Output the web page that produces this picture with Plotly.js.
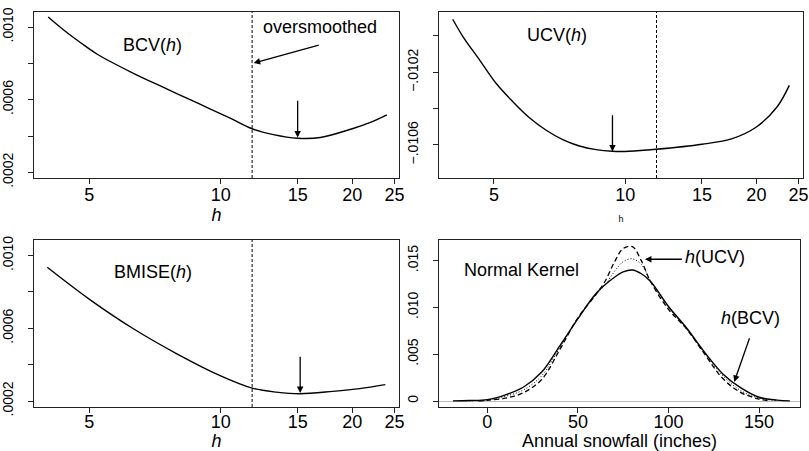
<!DOCTYPE html>
<html>
<head>
<meta charset="utf-8">
<script src="https://cdn.plot.ly/plotly-3.0.1.min.js"></script>
<style>html,body{margin:0;padding:0;background:#fff;}#chart{width:809px;height:451px;}</style>
</head>
<body>
<div id="chart"></div>
<script>
// ---- data ----
var hOversmoothed = 11.8;

var hBCV = [4.03, 4.38, 4.79, 5.22, 6.23, 7.42, 8.84, 10.54, 11.8, 13.2, 15.0, 16.9, 20.0, 22.0, 24.0];
var bcvValues = [0.001055, 0.000982, 0.000912, 0.000850, 0.000752, 0.000666, 0.000582, 0.000497, 0.000440, 0.000408, 0.000388, 0.000392, 0.000440, 0.000475, 0.000517];
var hBCVmin = 15.0;

var hUCV = [4.02, 4.25, 4.64, 5.06, 5.53, 6.03, 6.59, 7.19, 7.85, 8.57, 9.35, 10.21, 11.77, 15.0, 17.6, 20.0, 22.3, 23.8];
var ucvValues = [-0.009908, -0.010006, -0.010134, -0.010262, -0.010363, -0.010450, -0.010519, -0.010571, -0.010606, -0.010626, -0.010635, -0.010635, -0.010624, -0.010596, -0.010565, -0.010501, -0.010391, -0.010272];
var hUCVmin = 9.35;

var hBMISE = [4.01, 5.0, 6.30, 7.92, 9.94, 11.8, 13.4, 15.2, 18.05, 20.8, 23.8];
var bmiseValues = [0.000936, 0.000761, 0.000599, 0.000461, 0.000341, 0.000271, 0.000249, 0.000240, 0.000253, 0.000268, 0.000290];
var hBMISEmin = 15.2;

var snowX_BCV = [-19, -10, 0, 10, 20, 30, 40, 50, 60, 70, 75, 80, 85, 90, 100, 110, 120, 130, 140, 150, 160, 167];
var densBCV   = [0.00002, 0.00006, 0.00015, 0.00066, 0.0015, 0.0031, 0.0059, 0.0088, 0.0115, 0.0132, 0.0138, 0.0140, 0.0136, 0.0128, 0.0101, 0.0078, 0.0052, 0.0029, 0.0014, 0.0004, 0.0001, 0.00002];

var snowX_mid = [-12, 0, 10, 20, 30, 40, 50, 60, 65, 70, 75, 80, 85, 90, 100, 110, 120, 130, 140, 150, 160];
var densMid   = [0.00002, 0.0001, 0.0005, 0.0012, 0.0027, 0.0057, 0.0088, 0.0114, 0.0124, 0.0138, 0.0149, 0.0152, 0.0146, 0.0129, 0.0100, 0.0077, 0.0051, 0.0027, 0.0011, 0.0003, 0.00005];

var snowX_UCV = [-5, 0, 10, 20, 30, 40, 50, 60, 65, 70, 75, 80, 85, 90, 100, 110, 120, 130, 140, 150, 155];
var densUCV   = [0.00002, 0.00008, 0.0003, 0.0009, 0.0023, 0.0055, 0.0089, 0.0114, 0.0128, 0.0148, 0.0163, 0.0165, 0.0150, 0.0128, 0.0098, 0.0077, 0.0050, 0.0024, 0.0009, 0.0002, 0.00005];

var p1Ticks = [0.0002, 0.0004, 0.0006, 0.0008, 0.0010];
var p1Labels = ['.0002', '', '.0006', '', '.0010'];
var p2Ticks = [-0.0106, -0.0104, -0.0102, -0.0100];
var p2Labels = ['\u2212.0106', '', '\u2212.0102', ''];
var p4Ticks = [0, 0.005, 0.010, 0.015];
var p4Labels = ['0', '.005', '.010', '.015'];
var hTicks = [5, 10, 15, 20, 25];
var snowTicks = [0, 50, 100, 150];

// ---- layout helpers ----
var FONT = 'Liberation Sans, Arial, Helvetica, sans-serif';
var W = 809, H = 451;
function xd(a, b) { return [a / W, b / W]; }
function yd(t, b) { return [1 - b / H, 1 - t / H]; }
var L = Math.log10;

var r1y = [0.000169, 0.0010826];
var r2y = [-0.010782, -0.009868];
var r3y = [0.000167, 0.001086];
var r4y = [-0.00064, 0.01721];
var hRange = [0.5728, 1.408];

function xax(domain, anchor, extra) {
  var o = {
    domain: domain, anchor: anchor,
    showline: true, mirror: true, linecolor: '#222', linewidth: 1,
    ticks: 'outside', ticklen: 5, tickcolor: '#222', tickwidth: 1,
    showgrid: false, zeroline: false,
    tickfont: {family: FONT, size: 18, color: '#000'},
    ticklabelstandoff: -5
  };
  for (var k in extra) o[k] = extra[k];
  return o;
}
function yax(domain, anchor, extra) {
  var o = {
    domain: domain, anchor: anchor,
    showline: true, mirror: true, linecolor: '#222', linewidth: 1,
    ticks: 'outside', ticklen: 5, tickcolor: '#222', tickwidth: 1,
    showgrid: false, zeroline: false, tickangle: -90,
    tickfont: {family: FONT, size: 14, color: '#000'},
    ticklabelstandoff: 9
  };
  for (var k in extra) o[k] = extra[k];
  return o;
}

var lineSolid = {color: '#000', width: 1.4, shape: 'spline', smoothing: 1};
var vDash = {color: '#000', width: 1, dash: '3px,2px'};

var traces = [
  {x: hBCV, y: bcvValues, xaxis: 'x', yaxis: 'y', mode: 'lines', line: lineSolid},
  {x: [hOversmoothed, hOversmoothed], y: r1y, xaxis: 'x', yaxis: 'y', mode: 'lines', line: vDash},
  {x: hUCV, y: ucvValues, xaxis: 'x2', yaxis: 'y2', mode: 'lines', line: lineSolid},
  {x: [hOversmoothed, hOversmoothed], y: r2y, xaxis: 'x2', yaxis: 'y2', mode: 'lines', line: vDash},
  {x: hBMISE, y: bmiseValues, xaxis: 'x3', yaxis: 'y3', mode: 'lines', line: lineSolid},
  {x: [hOversmoothed, hOversmoothed], y: r3y, xaxis: 'x3', yaxis: 'y3', mode: 'lines', line: vDash},
  {x: snowX_UCV, y: densUCV, xaxis: 'x4', yaxis: 'y4', mode: 'lines', line: {color: '#000', width: 1.3, dash: '5px,3px', shape: 'spline', smoothing: 1}},
  {x: snowX_mid, y: densMid, xaxis: 'x4', yaxis: 'y4', mode: 'lines', line: {color: '#000', width: 1, dash: '1px,2px', shape: 'spline', smoothing: 1}},
  {x: snowX_BCV, y: densBCV, xaxis: 'x4', yaxis: 'y4', mode: 'lines', line: lineSolid}
];

function txt(xr, yr, x, y, t) {
  return {xref: xr, yref: yr, x: x, y: y, text: t, showarrow: false,
          font: {family: FONT, size: 18, color: '#000'}, xanchor: 'center', yanchor: 'middle'};
}
function arr(xr, yr, x, y, ax, ay) {
  return {xref: xr, yref: yr, axref: xr, ayref: yr, x: x, y: y, ax: ax, ay: ay, text: '',
          showarrow: true, arrowhead: 2, arrowsize: 1, arrowwidth: 1.3, arrowcolor: '#000', standoff: 0, startstandoff: 0};
}

var annotations = [
  txt('x', 'y', L(6.98), 0.000899, 'BCV(<i>h</i>)'),
  txt('x', 'y', L(16.9), 0.00100, 'oversmoothed'),
  arr('x', 'y', L(11.9), 0.000802, L(16.9), 0.000903),
  arr('x', 'y', L(hBCVmin), 0.000392, L(hBCVmin), 0.000602),

  txt('x2', 'y2', L(6.98), -0.009996, 'UCV(<i>h</i>)'),
  arr('x2', 'y2', L(hUCVmin), -0.010636, L(hUCVmin), -0.010428),

  txt('x3', 'y3', L(7.0), 0.000912, 'BMISE(<i>h</i>)'),
  arr('x3', 'y3', L(hBMISEmin), 0.000244, L(hBMISEmin), 0.000452),

  txt('x4', 'y4', 19, 0.0140, 'Normal Kernel'),
  txt('x4', 'y4', 125.7, 0.01543, '<i>h</i>(UCV)'),
  arr('x4', 'y4', 87, 0.01515, 108.2, 0.01515),
  txt('x4', 'y4', 145, 0.00883, '<i>h</i>(BCV)'),
  arr('x4', 'y4', 136.3, 0.00204, 145, 0.00686)
];

var layout = {
  width: W, height: H,
  margin: {l: 0, r: 0, t: 0, b: 0},
  paper_bgcolor: '#fff', plot_bgcolor: '#fff',
  showlegend: false,
  font: {family: FONT, color: '#000'},
  xaxis: xax(xd(34, 399), 'y', {type: 'log', range: hRange, tickvals: hTicks, ticktext: hTicks.map(String),
    title: {text: '<i>h</i>', font: {family: FONT, size: 18}, standoff: 0}}),
  yaxis: yax(yd(12, 178), 'x', {range: r1y, tickvals: p1Ticks, ticktext: p1Labels}),
  xaxis2: xax(xd(439, 803), 'y2', {type: 'log', range: hRange, tickvals: hTicks, ticktext: hTicks.map(String),
    title: {text: 'h', font: {family: FONT, size: 9}, standoff: 12}}),
  yaxis2: yax(yd(12, 178), 'x2', {range: r2y, tickvals: p2Ticks, ticktext: p2Labels}),
  xaxis3: xax(xd(34, 399), 'y3', {type: 'log', range: hRange, tickvals: hTicks, ticktext: hTicks.map(String),
    ticklabelstandoff: -7, title: {text: '<i>h</i>', font: {family: FONT, size: 18}, standoff: 4}}),
  yaxis3: yax(yd(240, 407), 'x3', {range: r3y, tickvals: p1Ticks, ticktext: p1Labels}),
  xaxis4: xax(xd(439, 800), 'y4', {range: [-26.7, 172.6], tickvals: snowTicks, ticktext: snowTicks.map(String),
    ticklabelstandoff: -7, title: {text: 'Annual snowfall (inches)', font: {family: FONT, size: 18}, standoff: 5}}),
  yaxis4: yax(yd(240, 407), 'x4', {range: r4y, tickvals: p4Ticks, ticktext: p4Labels,
    zeroline: true, zerolinecolor: '#bbbbbb', zerolinewidth: 1}),
  annotations: annotations
};

Plotly.newPlot('chart', traces, layout, {staticPlot: true, displayModeBar: false});
</script>
</body>
</html>
